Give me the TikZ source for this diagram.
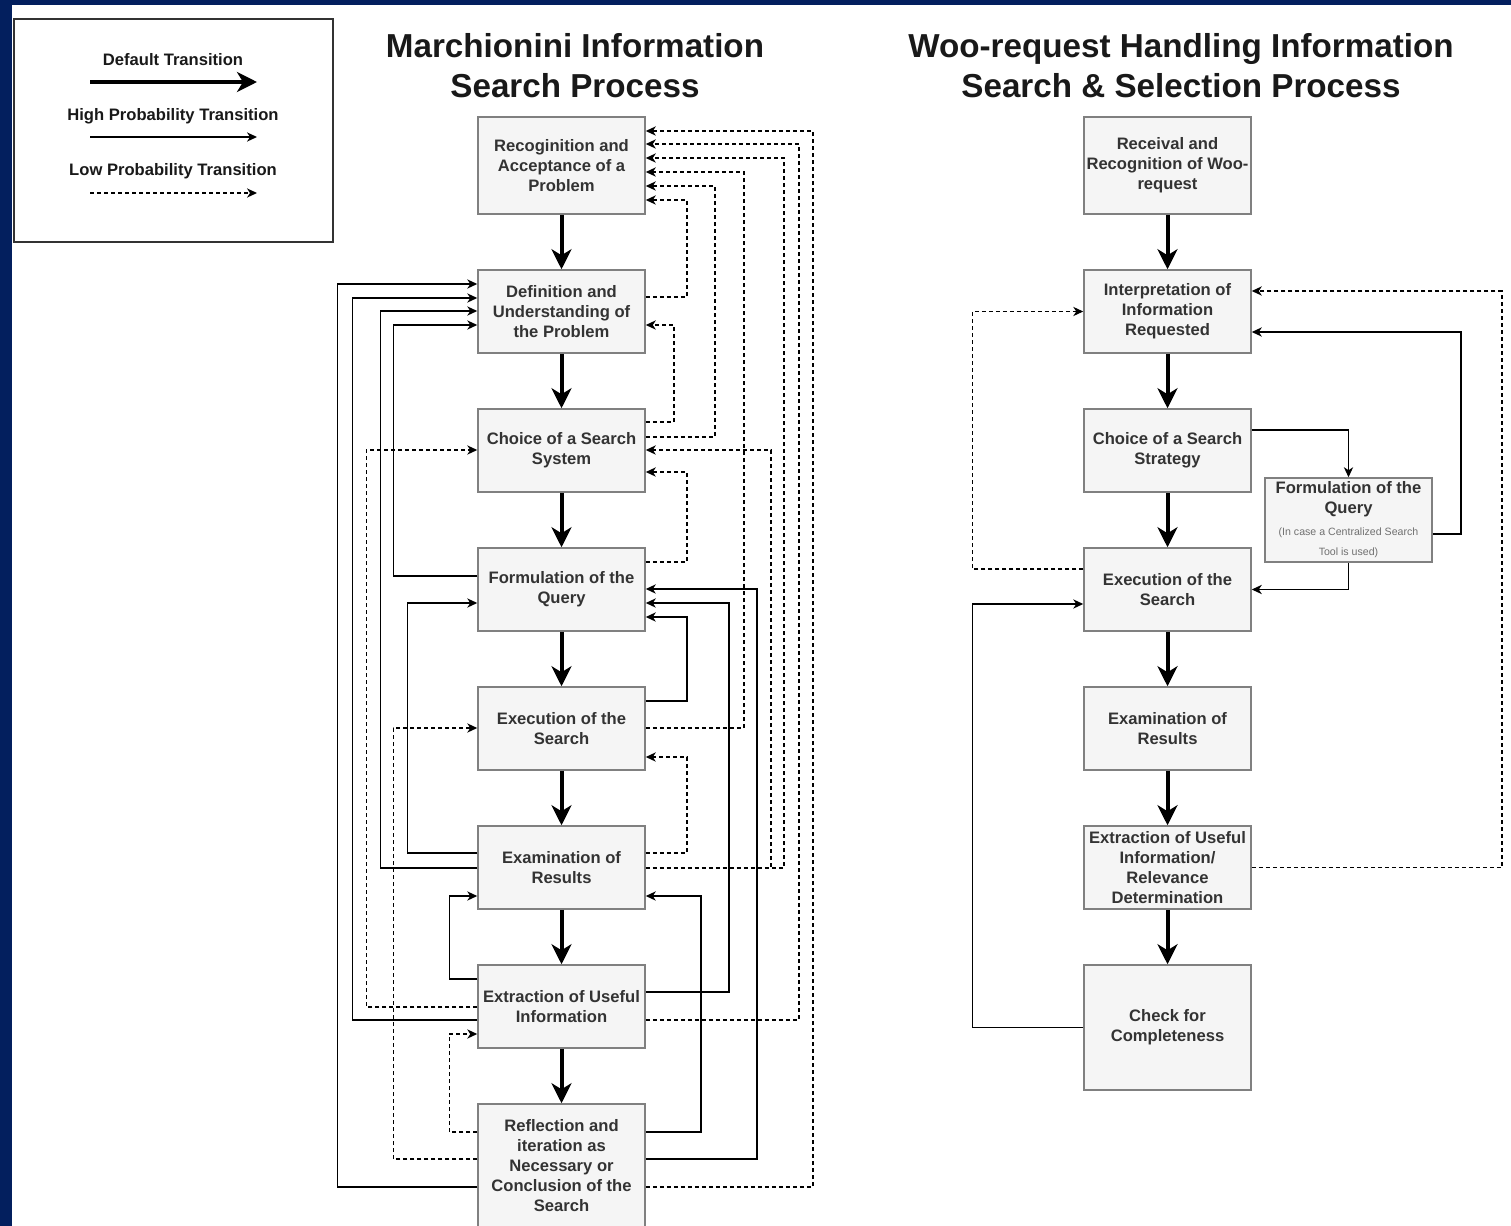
\documentclass[tikz,border=0pt]{standalone}
\usepackage{fontspec}
\setmainfont{Liberation Sans}
\usetikzlibrary{arrows.meta,calc}
\definecolor{navy}{RGB}{3,31,94}
\definecolor{boxfill}{HTML}{F5F5F5}
\definecolor{boxline}{HTML}{808080}
\definecolor{txt}{HTML}{333333}
\definecolor{small}{HTML}{707070}
\begin{document}
\begin{tikzpicture}[x=0.5pt,y=-0.5pt,
  box/.style={draw=boxline, fill=boxfill, line width=0.75pt, minimum width=83.5pt,
    minimum height=41.5pt, inner sep=1pt, align=center, text=txt,
    font=\fontsize{8.3}{10}\selectfont\bfseries},
  title/.style={align=center, text=black!90, inner sep=0pt,
    font=\fontsize{16.6}{20}\selectfont\bfseries},
  lbl/.style={text=black!90, inner sep=0pt, font=\fontsize{8.3}{10}\selectfont\bfseries},
  dflow/.style={line width=2pt, -{Stealth[length=10pt,width=10pt,inset=3pt]}},
  hflow/.style={line width=0.75pt, -{Stealth[length=5pt,width=4.6pt,inset=1.5pt]}},
  lflow/.style={hflow, dash pattern=on 2pt off 1.5pt}]
\useasboundingbox (0,0) rectangle (1511,1226);
\fill[white] (0,0) rectangle (1511,1226);
\fill[navy] (0,0) rectangle (1511,5);
\fill[navy] (0,0) rectangle (12,1226);

% legend
\node[draw=txt, line width=0.75pt, minimum width=159.5pt, minimum height=111.5pt, inner sep=0pt] (legend) at (173.5,130.5) {};
\node[lbl] (l1) at (173,60) {Default Transition};
\node[lbl] (l2) at (173,116) {High Probability Transition};
\node[lbl] (l3) at (173,171) {Low Probability Transition};
\coordinate (a1s) at (90,82);  \coordinate (a1e) at (257,82);
\coordinate (a2s) at (90,137); \coordinate (a2e) at (257,137);
\coordinate (a3s) at (90,193); \coordinate (a3e) at (257,193);
\draw[dflow] (a1s) -- (a1e);
\draw[hflow] (a2s) -- (a2e);
\draw[lflow] (a3s) -- (a3e);

% titles
\node[title] (t1) at (575,66) {Marchionini Information\\Search Process};
\node[title] (t2) at (1181,66) {Woo-request Handling Information\\Search \& Selection Process};

% left column
\node[box, minimum height=48.5pt] (B1) at (561.5,165.5) {Recoginition and\\Acceptance of a\\Problem};
\node[box] (B2) at (561.5,311.5) {Definition and\\Understanding of\\the Problem};
\node[box] (B3) at (561.5,450.5) {Choice of a Search\\System};
\node[box] (B4) at (561.5,589.5) {Formulation of the\\Query};
\node[box] (B5) at (561.5,728.5) {Execution of the\\Search};
\node[box] (B6) at (561.5,867.5) {Examination of\\Results};
\node[box] (B7) at (561.5,1006.5) {Extraction of Useful\\Information};
\node[box, minimum height=62pt] (B8) at (561.5,1166) {Reflection and\\iteration as\\Necessary or\\Conclusion of the\\Search};

\draw[dflow] (B1) -- (B2);
\draw[dflow] (B2) -- (B3);
\draw[dflow] (B3) -- (B4);
\draw[dflow] (B4) -- (B5);
\draw[dflow] (B5) -- (B6);
\draw[dflow] (B6) -- (B7);
\draw[dflow] (B7) -- (B8);

% right-hand loops
\draw[lflow] ($(B2.east)+(0,-14.5)$) -- ++(41,0) |- ($(B1.east)+(0,34.5)$);
\draw[lflow] ($(B3.east)+(0,-13.5)$) -- ++(69,0) |- ($(B1.east)+(0,20.5)$);
\draw[lflow] ($(B3.east)+(0,-28.5)$) -- ++(28,0) |- ($(B2.east)+(0,13.5)$);
\draw[lflow] ($(B5.east)+(0,-0.5)$) -- ++(98,0) |- ($(B1.east)+(0,6.5)$);
\draw[lflow] ($(B6.east)+(0,0.5)$) -- ++(138,0) |- ($(B1.east)+(0,-7.5)$);
\draw[lflow] ($(B6.east)+(0,0.5)$) -- ++(125,0) |- ($(B3.east)+(0,-0.5)$);
\draw[lflow] ($(B7.east)+(0,13.5)$) -- ++(153,0) |- ($(B1.east)+(0,-21.5)$);
\draw[lflow] ($(B8.east)+(0,21)$) -- ++(167,0) |- ($(B1.east)+(0,-34.5)$);
\draw[lflow] ($(B4.east)+(0,-27.5)$) -- ++(41,0) |- ($(B3.east)+(0,21.5)$);
\draw[hflow] ($(B8.east)+(0,-7)$) -- ++(111,0) |- ($(B4.east)+(0,-0.5)$);
\draw[hflow] ($(B7.east)+(0,-14.5)$) -- ++(83,0) |- ($(B4.east)+(0,13.5)$);
\draw[hflow] ($(B5.east)+(0,-27.5)$) -- ++(41,0) |- ($(B4.east)+(0,27.5)$);
\draw[lflow] ($(B6.east)+(0,-14.5)$) -- ++(41,0) |- ($(B5.east)+(0,28.5)$);
\draw[hflow] ($(B8.east)+(0,-34)$) -- ++(55,0) |- ($(B6.east)+(0,28.5)$);

% left-hand loops
\draw[hflow] ($(B8.west)+(0,21)$) -- ++(-140,0) |- ($(B2.west)+(0,-27.5)$);
\draw[hflow] ($(B7.west)+(0,13.5)$) -- ++(-125,0) |- ($(B2.west)+(0,-13.5)$);
\draw[hflow] ($(B6.west)+(0,0.5)$) -- ++(-97,0) |- ($(B2.west)+(0,-0.5)$);
\draw[hflow] ($(B4.west)+(0,-13.5)$) -- ++(-84,0) |- ($(B2.west)+(0,13.5)$);
\draw[lflow] ($(B7.west)+(0,0.5)$) -- ++(-111,0) |- ($(B3.west)+(0,-0.5)$);
\draw[hflow] ($(B6.west)+(0,-14.5)$) -- ++(-70,0) |- ($(B4.west)+(0,13.5)$);
\draw[lflow] ($(B8.west)+(0,-7)$) -- ++(-84,0) |- ($(B5.west)+(0,-0.5)$);
\draw[hflow] ($(B7.west)+(0,-27.5)$) -- ++(-28,0) |- ($(B6.west)+(0,28.5)$);
\draw[lflow] ($(B8.west)+(0,-34)$) -- ++(-28,0) |- ($(B7.west)+(0,27.5)$);

% right column
\node[box, minimum height=48.5pt] (R1) at (1167.5,165.5) {Receival and\\Recognition of Woo-\\request};
\node[box] (R2) at (1167.5,311.5) {Interpretation of\\Information\\Requested};
\node[box] (R3) at (1167.5,450.5) {Choice of a Search\\Strategy};
\node[box] (R4) at (1167.5,589.5) {Execution of the\\Search};
\node[box] (R5) at (1167.5,728.5) {Examination of\\Results};
\node[box] (R6) at (1167.5,867.5) {Extraction of Useful\\Information/\\Relevance\\Determination};
\node[box, minimum height=62.5pt] (R7) at (1167.5,1027.5) {Check for\\Completeness};
\node[box, minimum height=42pt] (Q) at (1348.5,520) {Formulation of the\\Query\\[1pt]{\fontsize{5.3}{9.5}\selectfont\mdseries\color{small}(In case a Centralized Search}\\{\fontsize{5.3}{9.5}\selectfont\mdseries\color{small}Tool is used)}};

\draw[dflow] (R1) -- (R2);
\draw[dflow] (R2) -- (R3);
\draw[dflow] (R3) -- (R4);
\draw[dflow] (R4) -- (R5);
\draw[dflow] (R5) -- (R6);
\draw[dflow] (R6) -- (R7);

\draw[hflow] ($(R3.east)+(0,-20.5)$) -| (Q.north);
\draw[hflow] ($(Q.east)+(0,14)$) -- ++(28,0) |- ($(R2.east)+(0,20.5)$);
\draw[hflow] (Q.south) |- (R4.east);
\draw[lflow] ($(R4.west)+(0,-20.5)$) -- ++(-111,0) |- (R2.west);
\draw[hflow] (R7.west) -- ++(-111,0) |- ($(R4.west)+(0,14.5)$);
\draw[lflow] (R6.east) -- ++(250,0) |- ($(R2.east)+(0,-20.5)$);
\end{tikzpicture}
\end{document}
